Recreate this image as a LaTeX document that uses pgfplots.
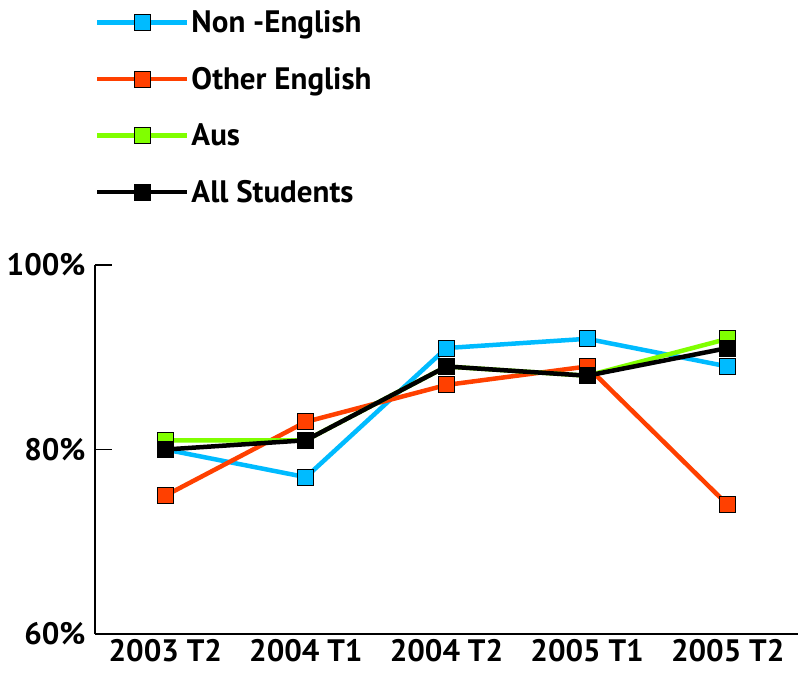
\documentclass[border=0pt]{standalone}
\usepackage{pgfplots}
\pgfplotsset{compat=1.18}
\usepackage{fontspec}
\setmainfont{PT Sans}
\definecolor{cNE}{RGB}{0,187,255}
\definecolor{cOE}{RGB}{255,64,0}
\definecolor{cAU}{RGB}{128,255,0}
\begin{document}
\begin{tikzpicture}
\begin{axis}[
  scale only axis, width=703pt, height=369pt,
  xmin=-0.5, xmax=4.5, ymin=60, ymax=100,
  axis x line*=bottom, axis y line*=left,
  axis line style={line width=1.6pt, -},
  xtick={0,1,2,3,4},
  xticklabels={2003 T2,2004 T1,2004 T2,2005 T1,2005 T2},
  minor xtick={0.5,1.5,2.5,3.5},
  xtick style={draw=none},
  minor x tick style={line width=1.6pt, black},
  minor tick length=10pt,
  ytick={60,80,100},
  ytick style={line width=1.6pt, black},
  major tick length=17pt,
  tick align=inside,
  yticklabel={\pgfmathprintnumber{\tick}\%},
  /pgf/number format/assume math mode=true,
  tick label style={font=\bfseries\fontsize{31}{33}\selectfont},
  xticklabel style={yshift=-2pt},
  yticklabel style={xshift=-6pt},
  every axis plot/.append style={line width=4.5pt, mark=square*, mark size=8pt},
  legend style={at={(0,1)}, anchor=south west, yshift=59pt, xshift=0pt, draw=none, fill=none,
     font=\bfseries\fontsize{31}{33}\selectfont, row sep=29pt,
     inner sep=0pt, outer sep=0pt},
  legend cell align=left,
  legend image code/.code={\draw[#1, mark repeat=2, mark phase=2] plot coordinates {(0pt,0pt) (45pt,0pt) (90pt,0pt)};},
  clip=false,
]
\addplot[cNE, mark options={fill=cNE, draw=black, line width=1pt}] coordinates {(0,80) (1,77) (2,91) (3,92) (4,89)};
\addlegendentry{Non -English}
\addplot[cOE, mark options={fill=cOE, draw=black, line width=1pt}] coordinates {(0,75) (1,83) (2,87) (3,89) (4,74)};
\addlegendentry{Other English}
\addplot[cAU, mark options={fill=cAU, draw=black, line width=1pt}] coordinates {(0,81) (1,81) (2,89) (3,88) (4,92)};
\addlegendentry{Aus}
\addplot[black, mark options={fill=black, draw=black, line width=1pt}] coordinates {(0,80) (1,81) (2,89) (3,88) (4,91)};
\addlegendentry{All Students}
\end{axis}
\pgfresetboundingbox
\path (-95pt,-39pt) rectangle (703pt,634pt);
\end{tikzpicture}
\end{document}
